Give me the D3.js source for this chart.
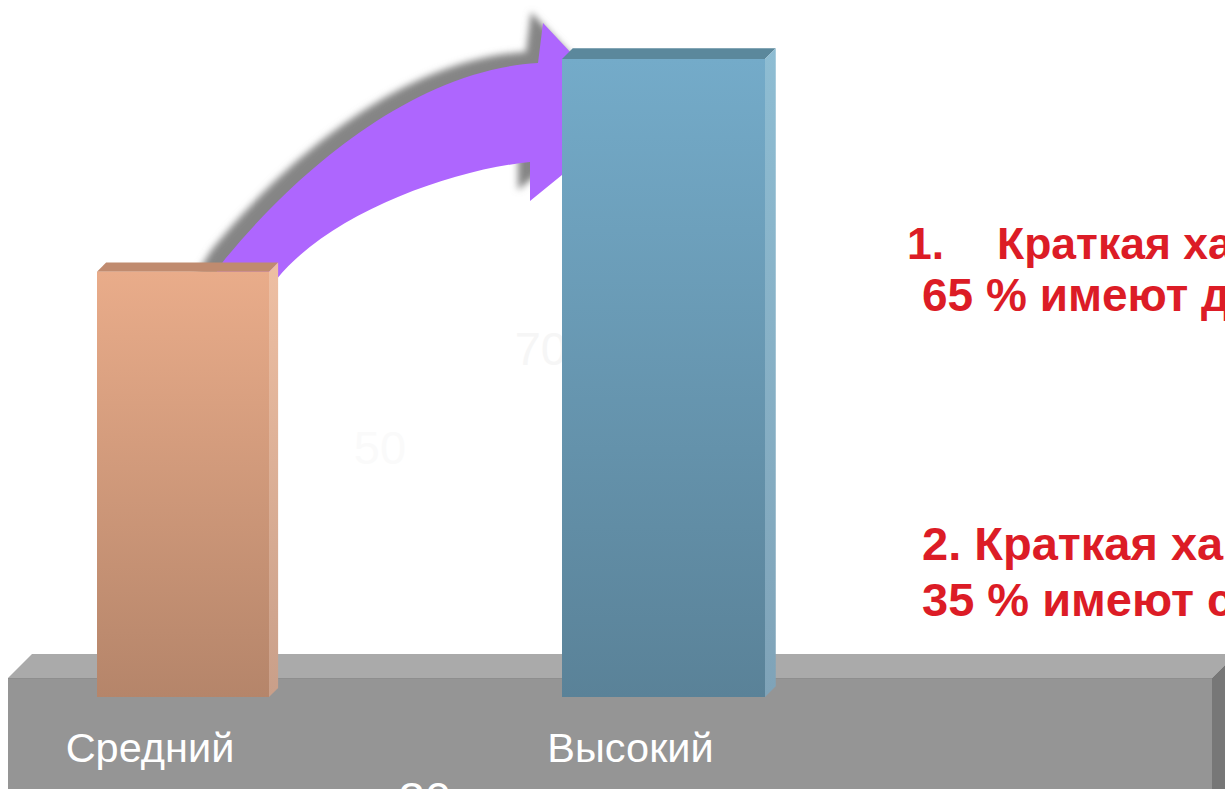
<!DOCTYPE html>
<html>
<head>
<meta charset="utf-8">
<script src="https://cdn.jsdelivr.net/npm/d3@7"></script>
<style>
  html,body{margin:0;padding:0;background:#fff;overflow:hidden;}
  svg{display:block;font-family:"Liberation Sans",Arial,sans-serif;}
</style>
</head>
<body>
<div id="chart"></div>
<script>
(function(){
  // data
  const categories=["Средний","Высокий"];
  const values=[50,70];
  const ghostLabels=["50","70","30"];
  const notes=[
    ["1.","Краткая характеристика"],
    ["","65 % имеют достаточный уровень"],
    ["","2. Краткая характеристика"],
    ["","35 % имеют средний уровень"]
  ];

  const W=1225,H=789;
  const red="#dc1c26";
  const svg=d3.select("#chart").append("svg").attr("width",W).attr("height",H);
  const defs=svg.append("defs");

  const x=d3.scalePoint().domain(categories).range([183,663.5]);
  const bw=d3.scaleOrdinal().domain(categories).range([172,203]);
  const y=d3.scaleLinear().domain([10,70]).range([697,59]);
  const skins={
    "Средний":{front:["#e9ac8a","#b5856a"],top:"#c08b6f",side:["#eebfa3","#c99f89"]},
    "Высокий":{front:["#74abc9","#5a8298"],top:"#5b889c",side:["#8ebdd3","#7fa3b8"]}
  };
  function grad(id,c){
    const g=defs.append("linearGradient").attr("id",id).attr("x1",0).attr("x2",0).attr("y1",0).attr("y2",1);
    g.append("stop").attr("offset","0%").attr("stop-color",c[0]);
    g.append("stop").attr("offset","100%").attr("stop-color",c[1]);
  }
  categories.forEach((c,i)=>{grad("f"+i,skins[c].front);grad("s"+i,skins[c].side);});
  defs.append("filter").attr("id","blur").attr("x","-20%").attr("y","-20%").attr("width","140%").attr("height","140%")
    .append("feGaussianBlur").attr("stdDeviation",3.5);

  // floor
  const floorTop=678,fd=24,fl=8,fr=1212;
  const floor=svg.append("g");
  floor.append("path").attr("d",`M${fl},${floorTop}L${fl+fd},${floorTop-fd}L${fr+fd},${floorTop-fd}L${fr},${floorTop}Z`).attr("fill","#aaaaaa");
  floor.append("rect").attr("x",fl).attr("y",floorTop).attr("width",fr-fl).attr("height",H-floorTop+20).attr("fill","#959595");
  floor.append("path").attr("d",`M${fr},${floorTop}L${fr+fd},${floorTop-fd}L${fr+fd},${H+20}L${fr},${H+20}Z`).attr("fill","#777777");
  floor.append("line").attr("x1",fl).attr("x2",fr).attr("y1",floorTop+.5).attr("y2",floorTop+.5).attr("stroke","#8e8e8e");

  // bar geometry
  const geo=categories.map((c,i)=>({c,i,x:x(c)-bw(c)/2,w:bw(c),top:y(values[i]),bottom:y.range()[0],d:bw(c)*0.053}));
  const b1=geo[0],b2=geo[1];

  // faint value labels
  const ghost=svg.append("g").attr("font-size",47);
  ghost.append("text").attr("x",b1.x+b1.w+111).attr("y",y(values[0])+192).attr("text-anchor","middle")
    .attr("fill","#fafafa").text(ghostLabels[0]);
  ghost.append("text").attr("x",b2.x+5).attr("y",y(values[1])+306).attr("text-anchor","end")
    .attr("fill","#f6f6f6").text(ghostLabels[1]);

  // arrow from bar 1 to bar 2
  const ax=b1.x+b1.w,ay=b1.top,bx=b2.x,by=b2.top;
  const p=d3.path();
  p.moveTo(ax-69,ay+27);
  p.lineTo(ax-46,ay-10);
  p.bezierCurveTo(ax+21,ay-93,bx-152,by+11,bx-24,by+4);
  p.lineTo(bx-19,by-36);
  p.lineTo(bx+70,by+59);
  p.lineTo(bx-32,by+142);
  p.lineTo(bx-32,by+103);
  p.bezierCurveTo(bx-112,by+111,ax+61,ay-58,ax+8,ay+7);
  p.lineTo(ax-14,ay+37);
  p.closePath();
  svg.append("path").attr("d",p.toString()).attr("fill","#858585")
    .attr("transform","translate(-12,-11)").attr("filter","url(#blur)");
  svg.append("path").attr("d",p.toString()).attr("fill","#ae66fe");

  // bars
  const bars=svg.selectAll(".bar").data(geo).join("g").attr("class","bar");
  bars.append("path")
    .attr("d",g=>`M${g.x},${g.top}L${g.x+g.d},${g.top-g.d}L${g.x+g.w+g.d},${g.top-g.d}L${g.x+g.w},${g.top}Z`)
    .attr("fill",g=>skins[g.c].top);
  bars.append("path")
    .attr("d",g=>`M${g.x+g.w},${g.top}L${g.x+g.w+g.d},${g.top-g.d}L${g.x+g.w+g.d},${g.bottom-g.d}L${g.x+g.w},${g.bottom}Z`)
    .attr("fill",g=>`url(#s${g.i})`);
  bars.append("rect").attr("x",g=>g.x).attr("y",g=>g.top)
    .attr("width",g=>g.w).attr("height",g=>g.bottom-g.top)
    .attr("fill",g=>`url(#f${g.i})`);

  // category labels
  svg.selectAll(".cat").data(geo).join("text").attr("class","cat")
    .attr("x",g=>g.x+g.w/2-33).attr("y",762).attr("text-anchor","middle")
    .attr("font-size",41.5).attr("fill","#ffffff").text(g=>g.c);

  svg.append("text").attr("x",x(categories[0])+242).attr("y",815).attr("text-anchor","middle")
    .attr("font-size",47).attr("fill","#ffffff").text(ghostLabels[2]);

  // notes on the right
  const nx=[907,922,922,922],ny=[259,311,560,616],ns=[44.5,46,47,47];
  const nt=svg.append("g").attr("font-weight","bold").attr("fill",red);
  notes.forEach((n,i)=>{
    const t=nt.append("text").attr("y",ny[i]).attr("font-size",ns[i]);
    if(n[0]){
      t.append("tspan").attr("x",nx[i]).text(n[0]);
      t.append("tspan").attr("x",997).text(n[1]);
    } else t.append("tspan").attr("x",nx[i]).text(n[1]);
  });
})();
</script>
</body>
</html>
